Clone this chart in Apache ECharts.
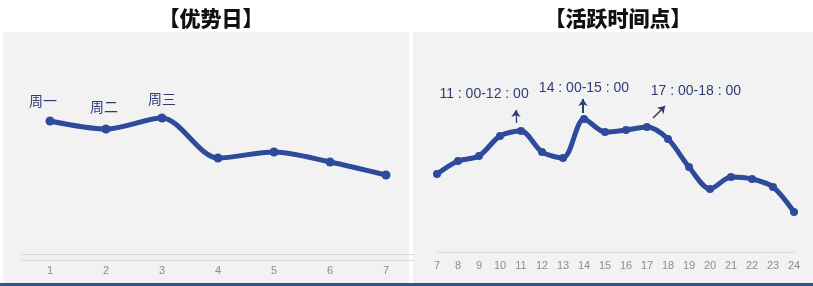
<!DOCTYPE html>
<html><head><meta charset="utf-8">
<script src="https://cdn.jsdelivr.net/npm/echarts@6/dist/echarts.min.js"></script>
<style>html,body{margin:0;padding:0;background:#fff}#c{width:813px;height:286px}</style>
</head><body><div id="c"></div>
<script>
// Left chart: 优势日
const dayCategories = ['1','2','3','4','5','6','7'];
const dayValues = [133, 125, 136, 96, 102, 92, 79];
const dayLabels = ['周一','周二','周三'];
// Right chart: 活跃时间点
const hours = [7,8,9,10,11,12,13,14,15,16,17,18,19,20,21,22,23,24];
const hourValues = [78, 91, 96, 116, 121, 100, 94, 133, 120, 122, 125, 113, 85, 63, 75, 73, 65, 40];
const hourNotes = ['11 : 00-12 : 00','14 : 00-15 : 00','17 : 00-18 : 00'];
const titles = ['【优势日】','【活跃时间点】'];

const lineColor = '#2E4B9B';
const noteColor = '#2F3C72';
const noteFont = '"Liberation Sans Narrow","Liberation Sans",sans-serif';

const labelOffsets = [[-7,-4],[-2,-6],[0,-3]];
const dayData = dayValues.map((v,i)=>{
  if (i < dayLabels.length) {
    return {value:v, label:{show:true, position:'top', formatter:dayLabels[i], offset:labelOffsets[i],
      color:noteColor, fontSize:14, fontFamily:'"Noto Sans CJK SC",sans-serif'}};
  }
  return v;
});

const hourData = hours.map((h,i)=>[h, hourValues[i]]);
const notePos = [[9.24,158],[14.0,164],[19.33,161]];
const arrows = [[[10.76,129],[10.76,142],1.3],[[13.95,139],[13.95,153],2],[[17.29,134],[17.86,146],1.6]];

const chart = echarts.init(document.getElementById('c'), null, {renderer:'canvas'});
chart.setOption({
  animation:false,
  backgroundColor:'#ffffff',
  graphic:[
    {type:'rect', shape:{x:3,y:32,width:406,height:251}, style:{fill:'#f2f2f2'}, z:-10},
    {type:'rect', shape:{x:413,y:32,width:400,height:251}, style:{fill:'#f2f2f2'}, z:-10},
    {type:'rect', shape:{x:0,y:283,width:813,height:3}, style:{fill:'#2E5597'}, z:-10}
  ],
  title:[
    {text:titles[0], left:206, top:3, textAlign:'center',
      textStyle:{fontSize:21, fontWeight:900, color:'#111', fontFamily:'"Noto Sans CJK SC",sans-serif'}},
    {text:titles[1], left:613, top:3, textAlign:'center',
      textStyle:{fontSize:21, fontWeight:900, color:'#111', fontFamily:'"Noto Sans CJK SC",sans-serif'}}
  ],
  grid:[
    {left:22, width:392, top:40, height:214},
    {left:437, right:19, top:40, height:212}
  ],
  xAxis:[
    {gridIndex:0, type:'category', data:dayCategories, boundaryGap:true,
      axisLine:{lineStyle:{color:'#d9d9d9', width:1}}, axisTick:{show:false}, axisLabel:{show:false}},
    {gridIndex:0, type:'category', data:dayCategories, boundaryGap:true, position:'bottom', offset:6,
      axisLine:{lineStyle:{color:'#d9d9d9', width:1}}, axisTick:{show:false},
      axisLabel:{color:'#8c8c8c', fontSize:11, margin:5, fontFamily:noteFont}},
    {gridIndex:1, type:'value', min:7, max:24, interval:1,
      axisLine:{show:true, lineStyle:{color:'#d9d9d9', width:1}}, axisTick:{show:false}, splitLine:{show:false},
      axisLabel:{color:'#8c8c8c', fontSize:11, margin:8, fontFamily:noteFont}}
  ],
  yAxis:[
    {gridIndex:0, type:'value', min:0, max:214, show:false},
    {gridIndex:1, type:'value', min:0, max:212, show:false}
  ],
  series:[
    {type:'line', xAxisIndex:0, yAxisIndex:0, data:dayData, smooth:0.3,
      symbol:'circle', symbolSize:9, showSymbol:true,
      lineStyle:{color:lineColor, width:5}, itemStyle:{color:lineColor}},
    {type:'line', xAxisIndex:2, yAxisIndex:1, data:hourData, smooth:0.3,
      symbol:'circle', symbolSize:8,
      lineStyle:{color:lineColor, width:5}, itemStyle:{color:lineColor},
      markPoint:{symbol:'circle', symbolSize:0, silent:true,
        data: hourNotes.map((t,i)=>({coord:notePos[i], value:t,
          label:{show:true, position:'inside', formatter:t, color:noteColor, fontSize:14, fontFamily:noteFont}}))},
      markLine:{silent:true, symbol:['none','arrow'], symbolSize:7, label:{show:false},
        data: arrows.map(a=>[{coord:a[0], lineStyle:{color:noteColor, width:a[2], type:'solid'}},{coord:a[1]}])}
    }
  ]
});
</script></body></html>
